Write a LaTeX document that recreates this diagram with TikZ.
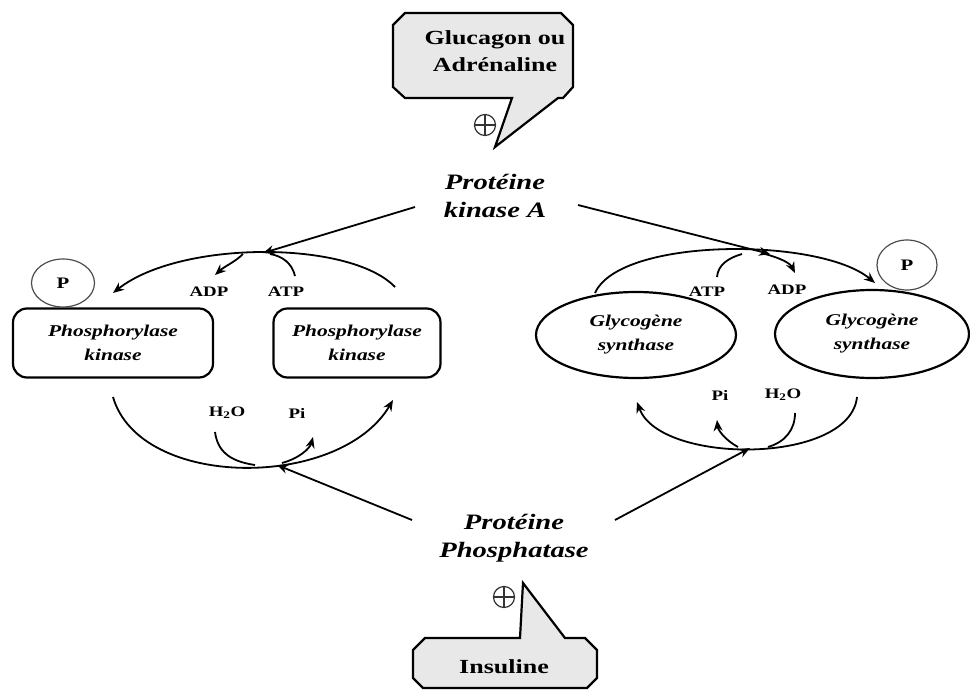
\documentclass[tikz,border=0pt]{standalone}
\usepackage{fontspec}
\setmainfont{Liberation Serif}[FakeStretch=1.3]
\usepackage{tikz}
\usetikzlibrary{positioning,calc}
\usetikzlibrary{arrows.meta,shapes.geometric}
\definecolor{BubbleGray}{RGB}{232,232,232}
\tikzset{
  enz/.style={draw=black,line width=2.2pt,rounded corners=14pt,align=center,font=\fontsize{16.5}{24}\selectfont\bfseries\itshape},
  ell/.style={ellipse,draw=black,line width=2.2pt,align=center,inner sep=0pt,font=\fontsize{16.5}{24}\selectfont\bfseries\itshape},
  pcirc/.style={ellipse,draw=black!70,line width=1.2pt,inner sep=0pt,font=\fontsize{16}{18}\selectfont\bfseries},
  prot/.style={align=center,font=\fontsize{22}{28}\selectfont\bfseries\itshape},
  small/.style={font=\fontsize{14.5}{16}\selectfont\bfseries},
  bubble/.style={draw=black,line width=2.2pt,fill=BubbleGray},
  cyc/.style={draw=black,line width=1.8pt},
  arr/.style={cyc,-{Stealth[length=11pt,width=9pt]}},
}
\tikzset{stim/.style={circle,draw=black!80,line width=1.2pt,minimum size=21pt,inner sep=0pt,
  path picture={\draw[line width=1.2pt] (path picture bounding box.north)--(path picture bounding box.south)
    (path picture bounding box.west)--(path picture bounding box.east);}}}

\begin{document}
\begin{tikzpicture}[x=1pt,y=-1pt]
\useasboundingbox (0,0) rectangle (970,691);
% speech bubbles
\draw[bubble] (405,13) -- (561,13) -- (573,25) -- (573,87) -- (563,98) -- (558,98) -- (495,147)
  -- (512,98) -- (405,98) -- (393,87) -- (393,25) -- cycle;
\draw[bubble] (425,638) -- (520,638) -- (523,583) -- (565,638) -- (585,638) -- (597,650)
  -- (597,678) -- (587,688) -- (423,688) -- (413,678) -- (413,650) -- cycle;
\node[align=center,font=\fontsize{20}{27}\selectfont\bfseries] (horm) at (495,51) {Glucagon ou\\Adrénaline};
\node[font=\fontsize{20}{24}\selectfont\bfseries] (ins) at (504,667) {Insuline};
\node[stim] (st1) at (485,125) {};
\node[stim] (st2) at (504,597) {};
% enzymes
\node[prot] (pka) at (495,196) {Protéine\\kinase A};
\node[prot] (pp) at (514,538) {Protéine\\Phosphatase};
\node[enz,minimum width=200pt,minimum height=69pt] (phk1) at (113,343) {Phosphorylase\\kinase};
\node[enz,minimum width=167pt,minimum height=69pt] (phk2) at (357,343) {Phosphorylase\\kinase};
\node[ell,minimum width=200pt,minimum height=86pt] (gs1) at (636,335) {Glycogène\\synthase};
\node[ell,minimum width=194pt,minimum height=88pt] (gs2) at (872,334) {Glycogène\\synthase};
\node[pcirc,minimum width=63pt,minimum height=48pt] (p1) at (63,283) {P};
\node[pcirc,minimum width=60pt,minimum height=50pt] (p2) at (907,265) {P};
% small labels
\node[small] (adp1) at (209,292) {ADP};
\node[small] (atp1) at (286,292) {ATP};
\node[small] (h2o1) at (227,413) {H\textsubscript{2}O};
\node[small] (pi1) at (297,413) {Pi};
\node[small] (atp2) at (707,292) {ATP};
\node[small] (adp2) at (787,290) {ADP};
\node[small] (pi2) at (720,395) {Pi};
\node[small] (h2o2) at (783,395) {H\textsubscript{2}O};
% junctions on the cycles
\coordinate (jtl) at (263,253);
\coordinate (jbl) at (277,465);
\coordinate (jtr) at (770,254);
\coordinate (jbr) at (750,448);
\coordinate (kal) at (415,207);
\coordinate (kar) at (578,205);
\coordinate (ppl) at (412,520);
\coordinate (ppr) at (615,520);
% left cycle
\draw[arr] (395,287) .. controls (350,240) and (180,240) .. (113,293);
\draw[arr] (243,254) .. controls (235,262) and (225,266) .. (215,275);
\draw[cyc] (295,276) .. controls (292,263) and (282,256) .. (270,254);
\draw[arr] (113,397) .. controls (140,490) and (340,490) .. (393,400);
\draw[cyc] (215,432) .. controls (218,455) and (235,462) .. (255,465);
\draw[arr] (282,463) .. controls (300,458) and (310,448) .. (313,437);
% right cycle
\draw[arr] (595,293) .. controls (620,237) and (820,237) .. (875,283);
\draw[cyc] (717,277) .. controls (718,265) and (728,258) .. (742,254);
\draw[arr] (765,254) .. controls (780,258) and (790,263) .. (795,273);
\draw[arr] (857,397) .. controls (850,465) and (660,465) .. (637,402);
\draw[arr] (738,447) .. controls (725,440) and (718,430) .. (717,420);
\draw[cyc] (795,413) .. controls (795,430) and (785,442) .. (768,447);
% regulation
\draw[arr] (kal) -- (jtl);
\draw[arr] (kar) -- (jtr);
\draw[arr] (ppl) -- (jbl);
\draw[arr] (ppr) -- (jbr);
\end{tikzpicture}
\end{document}
